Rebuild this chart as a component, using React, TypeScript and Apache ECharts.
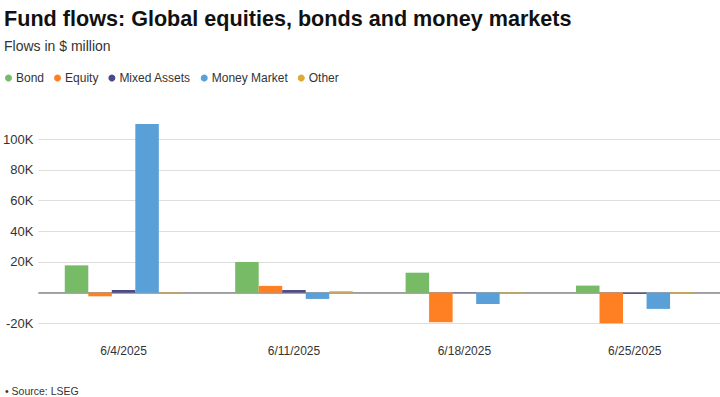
import React, { useEffect, useRef } from "react";
import * as echarts from "echarts";

const categories = ["6/4/2025", "6/11/2025", "6/18/2025", "6/25/2025"];
const seriesNames = ["Bond", "Equity", "Mixed Assets", "Money Market", "Other"];
const bond = [17800, 20000, 13000, 4600];
const equity = [-2400, 4400, -19300, -20600];
const mixedAssets = [1800, 1700, -300, -800];
const moneyMarket = [110000, -4100, -7400, -10600];
const other = [300, 900, 300, 400];
const colors = ["#77bb66", "#ff8022", "#4a4a88", "#5aa0d8", "#ddaa33"];

export default function App() {
  const ref = useRef<HTMLDivElement>(null);
  useEffect(() => {
    if (!ref.current) return;
    const chart = echarts.init(ref.current, undefined, { renderer: "svg" });
    const values = [bond, equity, mixedAssets, moneyMarket, other];
    const font = "'Liberation Sans', Arial, Helvetica, sans-serif";
    chart.setOption({
      animation: false,
      textStyle: { fontFamily: font },
      color: colors,
      title: [
        {
          text: "Fund flows: Global equities, bonds and money markets",
          left: -1,
          top: 2,
          textStyle: { fontSize: 21.6, fontWeight: "bold", color: "#111", fontFamily: font },
        },
        {
          text: "Flows in $ million",
          left: -1,
          top: 34,
          textStyle: { fontSize: 14, fontWeight: "normal", color: "#333", fontFamily: font },
        },
        {
          text: "• Source: LSEG",
          left: 0,
          top: 380,
          textStyle: { fontSize: 10.5, fontWeight: "normal", color: "#333", fontFamily: font },
        },
      ],
      legend: {
        left: 0,
        top: 67,
        icon: "circle",
        itemWidth: 7,
        itemHeight: 7,
        itemGap: 10,
        textStyle: { fontSize: 12, color: "#333", padding: [0, 0, 0, -1] },
        data: seriesNames,
      },
      grid: { left: 36, right: 0, top: 124, bottom: 73.7 },
      xAxis: {
        type: "category",
        data: categories,
        axisLine: { show: false, onZero: false },
        axisTick: { show: false },
        axisLabel: { color: "#333", fontSize: 12, margin: 22 },
      },
      yAxis: {
        type: "value",
        min: -20000,
        max: 110000,
        interval: 20000,
        axisLabel: {
          color: "#333",
          fontSize: 13,
          margin: 5,
          showMaxLabel: false,
          formatter: (v: number) => (v === 0 ? "" : v / 1000 + "K"),
        },
        splitLine: { lineStyle: { color: "#dddddd", width: 1 }, showMaxLine: false },
      },
      series: seriesNames.map((name, i) => ({
        name,
        type: "bar",
        data: values[i],
        barGap: "0%",
        barCategoryGap: "31%",
        itemStyle: { color: colors[i] },
        ...(i === 0
          ? {
              markLine: {
                silent: true,
                symbol: "none",
                label: { show: false },
                lineStyle: { color: "#888888", width: 1.5, type: "solid" },
                data: [{ yAxis: 0 }],
                z: 1,
              },
            }
          : {}),
      })),
    });
    return () => chart.dispose();
  }, []);
  return <div ref={ref} style={{ width: 720, height: 397, position: "absolute", left: 0, top: 0 }} />;
}
